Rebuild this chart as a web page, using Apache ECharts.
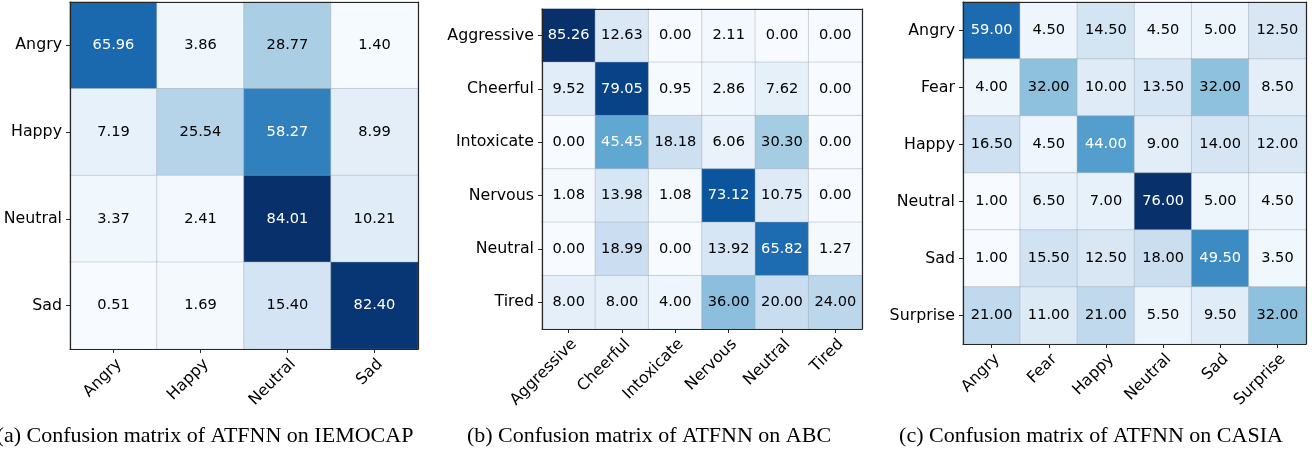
<!DOCTYPE html>
<html>
<head>
<meta charset="utf-8">
<script src="https://cdn.jsdelivr.net/npm/echarts@6/dist/echarts.min.js"></script>
<style>
  html, body { margin: 0; padding: 0; background: #fff; }
  #chart { width: 1312px; height: 450px; }
</style>
</head>
<body>
<div id="chart"></div>
<script>
// Class labels for each dataset
const iemocapLabels = ['Angry', 'Happy', 'Neutral', 'Sad'];
const abcLabels = ['Aggressive', 'Cheerful', 'Intoxicate', 'Nervous', 'Neutral', 'Tired'];
const casiaLabels = ['Angry', 'Fear', 'Happy', 'Neutral', 'Sad', 'Surprise'];

// Confusion matrices (%), rows = true class, columns = predicted class
const iemocapMatrix = [
  [65.96, 3.86, 28.77, 1.40],
  [7.19, 25.54, 58.27, 8.99],
  [3.37, 2.41, 84.01, 10.21],
  [0.51, 1.69, 15.40, 82.40]
];
const abcMatrix = [
  [85.26, 12.63, 0.00, 2.11, 0.00, 0.00],
  [9.52, 79.05, 0.95, 2.86, 7.62, 0.00],
  [0.00, 45.45, 18.18, 6.06, 30.30, 0.00],
  [1.08, 13.98, 1.08, 73.12, 10.75, 0.00],
  [0.00, 18.99, 0.00, 13.92, 65.82, 1.27],
  [8.00, 8.00, 4.00, 36.00, 20.00, 24.00]
];
const casiaMatrix = [
  [59.00, 4.50, 14.50, 4.50, 5.00, 12.50],
  [4.00, 32.00, 10.00, 13.50, 32.00, 8.50],
  [16.50, 4.50, 44.00, 9.00, 14.00, 12.00],
  [1.00, 6.50, 7.00, 76.00, 5.00, 4.50],
  [1.00, 15.50, 12.50, 18.00, 49.50, 3.50],
  [21.00, 11.00, 21.00, 5.50, 9.50, 32.00]
];

const captions = [
  '(a) Confusion matrix of ATFNN on IEMOCAP',
  '(b) Confusion matrix of ATFNN on ABC',
  '(c) Confusion matrix of ATFNN on CASIA'
];

// Sequential "Blues" palette
const blues = ['#f7fbff', '#deebf7', '#c6dbef', '#9ecae1', '#6baed6',
               '#4292c6', '#2171b5', '#08519c', '#08306b'];

const panels = [
  { labels: iemocapLabels, matrix: iemocapMatrix, grid: { left: 70, top: 2, width: 348, height: 347 }, cx: 205 },
  { labels: abcLabels, matrix: abcMatrix, grid: { left: 542, top: 9, width: 320, height: 320 }, cx: 649 },
  { labels: casiaLabels, matrix: casiaMatrix, grid: { left: 963, top: 2, width: 343, height: 342 }, cx: 1091 }
];

const FRAME = '#262626';
const TICK_FONT = 15.8;
const CELL_FONT = 14.6;
const FAMILY = '"DejaVu Sans", sans-serif';

const option = {
  animation: false,
  backgroundColor: '#fff',
  grid: [], xAxis: [], yAxis: [], visualMap: [], series: [], graphic: []
};

panels.forEach((p, i) => {
  const flat = p.matrix.flat();
  const vmin = Math.min(...flat), vmax = Math.max(...flat);
  const thresh = vmax / 2;
  option.grid.push(Object.assign({ containLabel: false }, p.grid));

  // bottom x axis with rotated labels, anchored at their top-right corner
  option.xAxis.push({
    type: 'category', gridIndex: i, data: p.labels, position: 'bottom',
    z: 10,
    axisLine: { show: true, lineStyle: { color: FRAME, width: 1.2 } },
    axisTick: { show: true, alignWithLabel: true, length: 4, lineStyle: { color: FRAME, width: 1 } },
    axisLabel: {
      rotate: 45, margin: 7, align: 'right', verticalAlign: 'top',
      fontSize: TICK_FONT, fontFamily: FAMILY, color: '#000', interval: 0
    },
    splitLine: { show: false }
  });
  // top x axis: frame only
  option.xAxis.push({
    type: 'category', gridIndex: i, data: p.labels, position: 'top', z: 10,
    axisLine: { show: true, lineStyle: { color: FRAME, width: 1.2 } },
    axisTick: { show: false }, axisLabel: { show: false }, splitLine: { show: false }
  });
  // left y axis with labels
  option.yAxis.push({
    type: 'category', gridIndex: i, data: p.labels, inverse: true, position: 'left', z: 10,
    axisLine: { show: true, lineStyle: { color: FRAME, width: 1.2 } },
    axisTick: { show: true, alignWithLabel: true, length: 4, lineStyle: { color: FRAME, width: 1 } },
    axisLabel: { margin: 8, fontSize: TICK_FONT, fontFamily: FAMILY, color: '#000', interval: 0 },
    splitLine: { show: false }
  });
  // right y axis: frame only
  option.yAxis.push({
    type: 'category', gridIndex: i, data: p.labels, inverse: true, position: 'right', z: 10,
    axisLine: { show: true, lineStyle: { color: FRAME, width: 1.2 } },
    axisTick: { show: false }, axisLabel: { show: false }, splitLine: { show: false }
  });

  option.visualMap.push({
    type: 'continuous', show: false, seriesIndex: i,
    min: vmin, max: vmax, dimension: 2,
    inRange: { color: blues }
  });

  const data = [];
  p.matrix.forEach((row, r) => {
    row.forEach((v, c) => {
      data.push({
        value: [c, r, v],
        label: { color: v > thresh ? '#fff' : '#000' }
      });
    });
  });

  option.series.push({
    type: 'heatmap',
    xAxisIndex: i * 2, yAxisIndex: i * 2,
    data: data,
    itemStyle: { borderColor: 'rgba(160,170,180,0.45)', borderWidth: 1 },
    label: {
      show: true, fontSize: CELL_FONT, fontFamily: FAMILY,
      formatter: (prm) => prm.value[2].toFixed(2)
    },
    emphasis: { disabled: true }
  });

  option.graphic.push({
    type: 'text', x: p.cx, y: 436,
    style: {
      text: captions[i], fill: '#000',
      font: '22px "Liberation Serif", "Times New Roman", serif',
      textAlign: 'center', textVerticalAlign: 'middle'
    }
  });
});

const chart = echarts.init(document.getElementById('chart'), null, { renderer: 'canvas' });
chart.setOption(option);
</script>
</body>
</html>
